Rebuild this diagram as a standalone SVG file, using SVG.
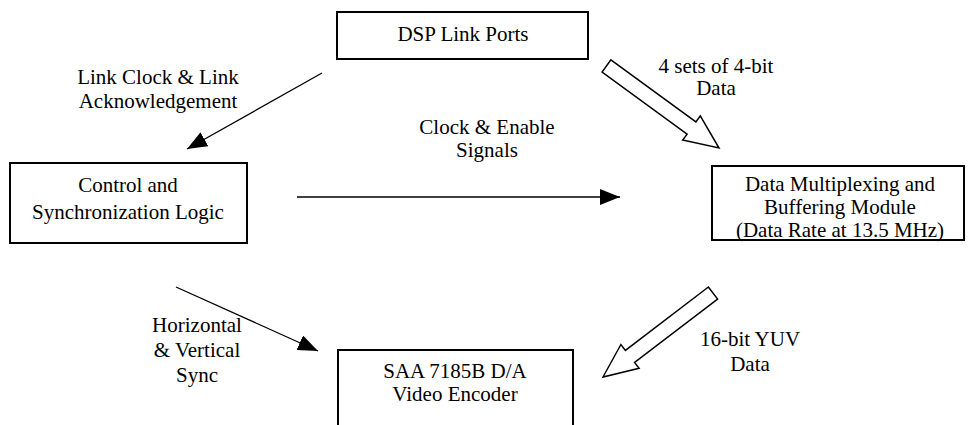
<svg xmlns="http://www.w3.org/2000/svg" width="970" height="425" viewBox="0 0 970 425">
  <style>
    .box { fill: #ffffff; stroke: #000000; stroke-width: 2; }
    .lbl { font-family: "Liberation Serif", "Times New Roman", serif; font-size: 21px; fill: #000000; text-anchor: middle; }
    .wire { stroke: #000000; stroke-width: 1.3; fill: none; }
    .fat { fill: #ffffff; stroke: #000000; stroke-width: 1.5; stroke-linejoin: miter; }
  </style>
  <defs>
    <marker id="head" markerUnits="userSpaceOnUse" markerWidth="22" markerHeight="18" refX="20" refY="8" orient="auto">
      <path d="M0,0 L20,8 L0,16 z" fill="#000000"/>
    </marker>
  </defs>
  <rect width="970" height="425" fill="#ffffff"/>

  <!-- connectors -->
  <g id="connectors">
    <line class="wire" x1="322" y1="73" x2="187" y2="149" marker-end="url(#head)"/>
    <line class="wire" x1="297" y1="197" x2="620" y2="197" marker-end="url(#head)"/>
    <line class="wire" x1="176" y1="287" x2="318" y2="351" marker-end="url(#head)"/>
    <!-- wide data-path arrows -->
    <polygon class="fat" points="610.9,59.9 695.9,121.9 700.3,115.9 719,148 682.7,140.1 687.1,134.1 602.1,72.1"/>
    <polygon class="fat" points="708.4,287 625.4,350.4 620.9,344.5 603,377 639.1,368.3 634.6,362.4 717.6,299"/>
    <text class="lbl" x="158" y="84">Link Clock &amp; Link</text>
    <text class="lbl" x="158" y="108">Acknowledgement</text>
    <text class="lbl" x="487" y="134">Clock &amp; Enable</text>
    <text class="lbl" x="487" y="157">Signals</text>
    <text class="lbl" x="716" y="73">4 sets of 4-bit</text>
    <text class="lbl" x="716" y="95">Data</text>
    <text class="lbl" x="750" y="346">16-bit YUV</text>
    <text class="lbl" x="750" y="371">Data</text>
    <text class="lbl" x="197" y="332">Horizontal</text>
    <text class="lbl" x="197" y="357">&amp; Vertical</text>
    <text class="lbl" x="197" y="382">Sync</text>
  </g>

  <!-- nodes -->
  <g id="dsp-link-ports">
    <rect class="box" x="337" y="12" width="251" height="47"/>
    <text class="lbl" x="463" y="41">DSP Link Ports</text>
  </g>
  <g id="control-sync-logic">
    <rect class="box" x="10" y="163" width="237" height="80"/>
    <text class="lbl" x="128" y="192">Control and</text>
    <text class="lbl" x="128" y="219">Synchronization Logic</text>
  </g>
  <g id="data-mux-buffer">
    <rect class="box" x="712" y="166" width="252" height="74"/>
    <text class="lbl" x="840" y="191">Data Multiplexing and</text>
    <text class="lbl" x="840" y="214">Buffering Module</text>
    <text class="lbl" x="840" y="237">(Data Rate at 13.5 MHz)</text>
  </g>
  <g id="video-encoder">
    <rect class="box" x="338" y="350" width="235" height="85"/>
    <text class="lbl" x="455" y="378">SAA 7185B D/A</text>
    <text class="lbl" x="455" y="401">Video Encoder</text>
  </g>
</svg>
